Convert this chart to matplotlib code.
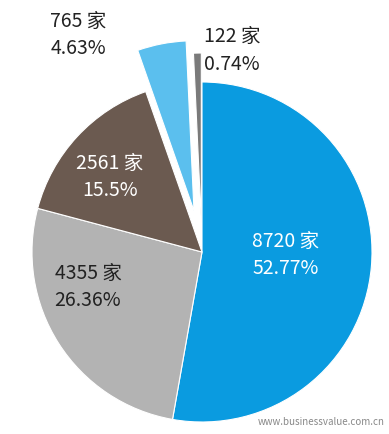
import matplotlib
matplotlib.use("Agg")
import matplotlib.pyplot as plt

plt.rcParams['font.family'] = ['Noto Sans CJK SC', 'DejaVu Sans']

# data
counts = [8720, 4355, 2561, 765, 122]
shares = ["52.77%", "26.36%", "15.5%", "4.63%", "0.74%"]
colors = ["#0A9BE0", "#B3B3B3", "#6B5A50", "#5BBFEE", "#7A7A7A"]
explode = [0, 0, 0, 42, 29]   # pie() takes these in data units
label_pos = [(286, 179), (88, 147), (110, 257), (78, 399), (232, 384)]
label_col = ["white", "#222222", "white", "#222222", "#222222"]

fig = plt.figure(figsize=(3.89, 4.34), dpi=100)
ax = fig.add_axes([0, 0, 1, 1])

ax.pie(counts, colors=colors, explode=explode, startangle=90, counterclock=False,
       center=(202, 182), radius=170,
       wedgeprops=dict(edgecolor='white', linewidth=0.8))

# pie() resets the limits, so set them afterwards
ax.set_xlim(0, 389)
ax.set_ylim(0, 434)
ax.set_aspect('equal')
ax.axis('off')

# labels: count line + percent line
for (x, y), n, s, c in zip(label_pos, counts, shares, label_col):
    ax.text(x, y + 14, "%d 家" % n, color=c, fontsize=14, ha='center', va='center')
    ax.text(x, y - 14, s, color=c, fontsize=14, ha='center', va='center')

ax.text(385, 12, "www.businessvalue.com.cn", color="#888888", fontsize=7,
        ha='right', va='center')

fig.savefig("out.png", dpi=100)
